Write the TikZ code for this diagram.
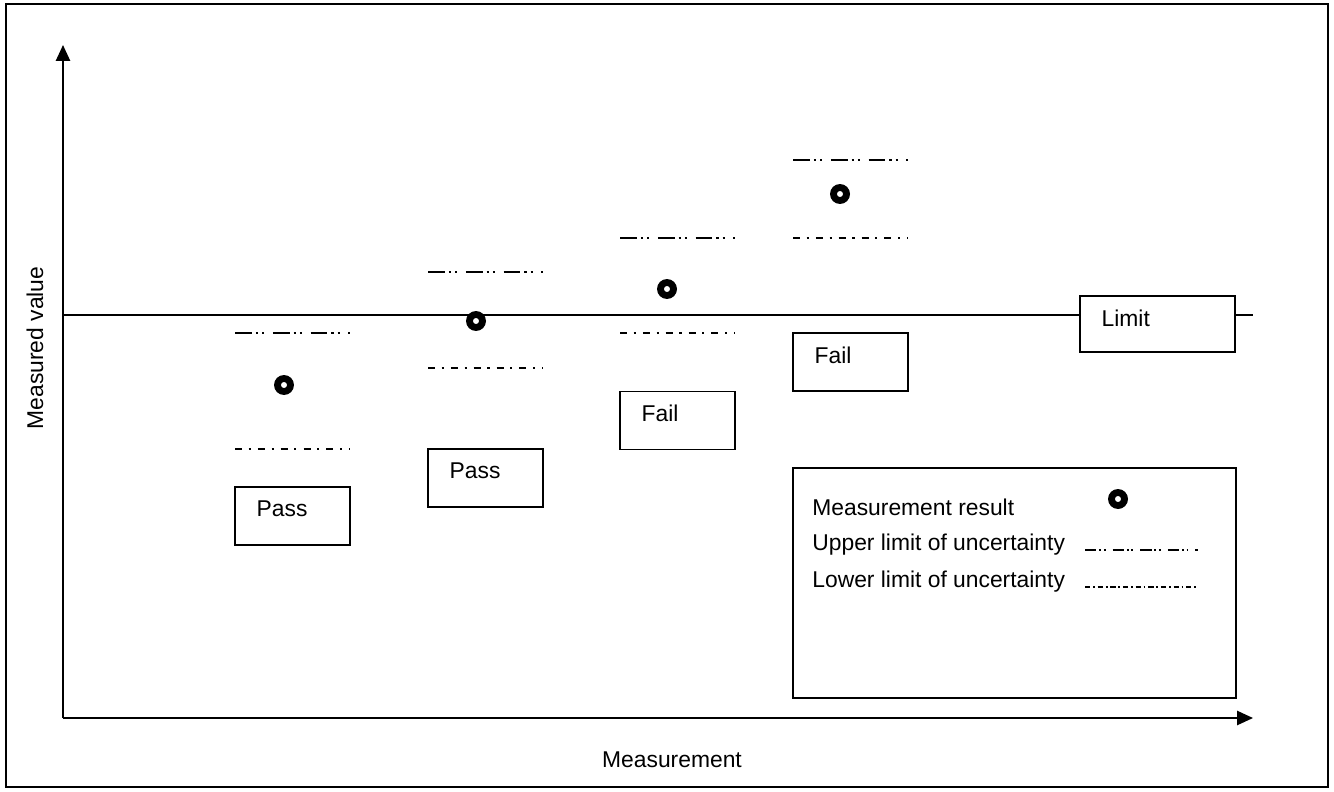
\documentclass[tikz,border=0pt]{standalone}
\usepackage{fontspec}
\setmainfont{Liberation Sans}
\usetikzlibrary{positioning,arrows.meta}
\tikzset{
  axisline/.style={-{Triangle[length=9pt,width=8pt]}, line width=1.1pt},
  resbox/.style={draw, line width=0.8pt, minimum width=2.3cm, minimum height=1.16cm,
                 inner sep=0pt},
  boxtxt/.style={font=\fontsize{13}{15}\selectfont, inner sep=0pt},
  uplim/.style={line width=1.4pt,
                dash pattern=on 9.6pt off 2.3pt on 1.2pt off 2.3pt on 1.2pt off 4.9pt},
  lowlim/.style={line width=1.4pt, dash pattern=on 4pt off 3.8pt on 1.2pt off 4pt},
  legup/.style={line width=1.1pt,
                dash pattern=on 6.5pt off 1.6pt on 1pt off 1.6pt on 1pt off 4pt},
  leglow/.style={line width=1.1pt, dash pattern=on 3pt off 1.6pt on 1pt off 1.6pt},
  result/.style={circle, draw, fill=white, line width=3.9pt, minimum size=0.26cm,
                 inner sep=0pt},
}

\begin{document}
\begin{tikzpicture}[x=0.02cm, y=-0.02cm]
    \useasboundingbox (0,0) rectangle (1334,791);
    \draw[line width=0.8pt] (6,4) rectangle (1328,787);
    % axes
    \coordinate (O) at (63,718);
    \coordinate (ytop) at (63,45);
    \coordinate (xend) at (1253,718);
    \draw[axisline] (O) -- (ytop);
    \draw[axisline] (O) -- (xend);
    \node[boxtxt, rotate=90] (ylab) at (35,348) {Measured value};
    \node[boxtxt] (xlab) at (672,760) {Measurement};
    % limit
    \node[resbox, minimum width=3.1cm, minimum height=1.12cm] (limit) at (1157.5,324) {};
    \node[boxtxt, below right=0.28cm and 0.44cm of limit.north west] {Limit};
    \coordinate (lim0) at (63,315);
    \coordinate (lim1) at (1253,315);
    \draw[line width=0.9pt] (lim0) -- (limit.west |- lim0);
    \draw[line width=0.9pt] (limit.east |- lim1) -- (lim1);
    % uncertainty bands
    \draw[uplim]  (235,333) -- (350,333);
    \draw[lowlim] (235,449) -- (350,449);
    \draw[uplim]  (428,272) -- (543,272);
    \draw[lowlim] (428,368) -- (543,368);
    \draw[uplim]  (620,238) -- (735,238);
    \draw[lowlim] (620,333) -- (735,333);
    \draw[uplim]  (793,160) -- (908,160);
    \draw[lowlim] (793,238) -- (908,238);
    % results
    \node[result] (r1) at (284,385) {};
    \node[result] (r2) at (476,321) {};
    \node[result] (r3) at (667,289) {};
    \node[result] (r4) at (840,194) {};
    % verdicts
    \node[resbox] (v1) at (292.5,516) {};
    \node[boxtxt, below right=0.28cm and 0.44cm of v1.north west] {Pass};
    \node[resbox] (v2) at (485.5,478) {};
    \node[boxtxt, below right=0.28cm and 0.44cm of v2.north west] {Pass};
    \node[resbox] (v3) at (677.5,420.5) {};
    \node[boxtxt, below right=0.28cm and 0.44cm of v3.north west] {Fail};
    \node[resbox] (v4) at (850.5,362) {};
    \node[boxtxt, below right=0.28cm and 0.44cm of v4.north west] {Fail};
    % legend
    \node[draw, line width=0.8pt, minimum width=8.86cm, minimum height=4.6cm,
          inner sep=0pt] (legend) at (1014.5,583) {};
    \node[boxtxt, anchor=base west] (leg1) at (812,515) {Measurement result};
    \node[boxtxt, anchor=base west] (leg2) at (812,550) {Upper limit of uncertainty};
    \node[boxtxt, anchor=base west] (leg3) at (812,587) {Lower limit of uncertainty};
    \node[result] (legr) at (1118,499) {};
    \draw[legup]  (1085,550) -- (1198,550);
    \draw[leglow] (1085,587) -- (1198,587);
  \end{tikzpicture}
\end{document}
